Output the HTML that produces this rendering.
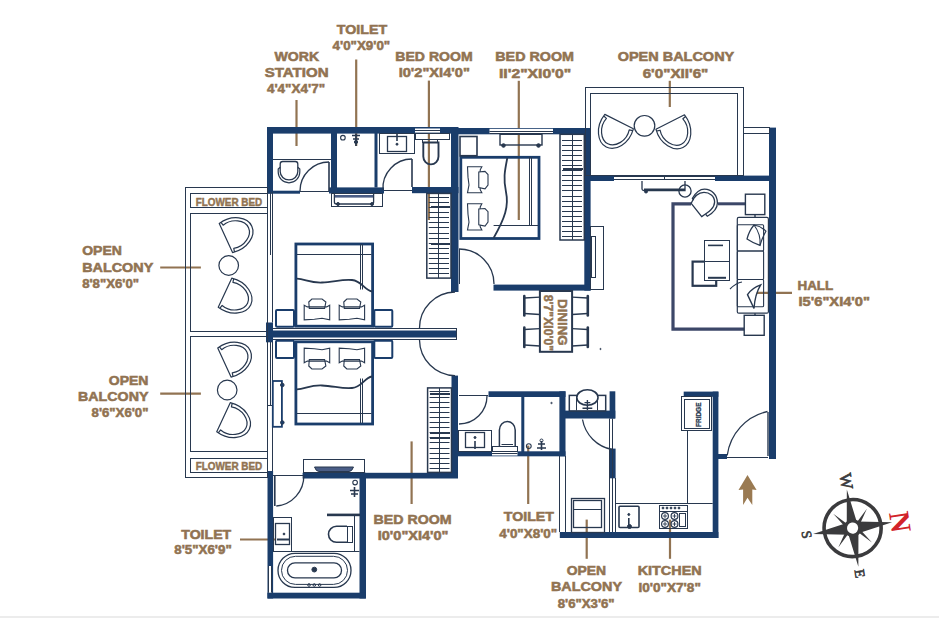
<!DOCTYPE html><html><head><meta charset="utf-8"><style>html,body{margin:0;padding:0;background:#fff;width:939px;height:618px;overflow:hidden}svg{display:block}text{font-family:"Liberation Sans",sans-serif;font-weight:bold}</style></head><body><svg width="939" height="618" viewBox="0 0 939 618"><text x="336.75" y="33.50" textLength="50.40" lengthAdjust="spacingAndGlyphs" font-size="13" fill="#917352" stroke="#917352" stroke-width="0.55">TOILET</text>
<text x="332.55" y="49.90" textLength="57.60" lengthAdjust="spacingAndGlyphs" font-size="13" fill="#917352" stroke="#917352" stroke-width="0.55">4'0"X9'0"</text>
<text x="274.45" y="60.90" textLength="44.70" lengthAdjust="spacingAndGlyphs" font-size="13" fill="#917352" stroke="#917352" stroke-width="0.55">WORK</text>
<text x="264.65" y="76.60" textLength="63.90" lengthAdjust="spacingAndGlyphs" font-size="13" fill="#917352" stroke="#917352" stroke-width="0.55">STATION</text>
<text x="266.95" y="92.50" textLength="58.10" lengthAdjust="spacingAndGlyphs" font-size="13" fill="#917352" stroke="#917352" stroke-width="0.55">4'4"X4'7"</text>
<text x="395.35" y="60.90" textLength="77.30" lengthAdjust="spacingAndGlyphs" font-size="13" fill="#917352" stroke="#917352" stroke-width="0.55">BED ROOM</text>
<text x="398.65" y="76.60" textLength="71.20" lengthAdjust="spacingAndGlyphs" font-size="13" fill="#917352" stroke="#917352" stroke-width="0.55">I0'2"XI4'0"</text>
<text x="495.25" y="60.90" textLength="78.80" lengthAdjust="spacingAndGlyphs" font-size="13" fill="#917352" stroke="#917352" stroke-width="0.55">BED ROOM</text>
<text x="498.95" y="77.60" textLength="72.20" lengthAdjust="spacingAndGlyphs" font-size="13" fill="#917352" stroke="#917352" stroke-width="0.55">II'2"XI0'0"</text>
<text x="617.65" y="60.90" textLength="116.60" lengthAdjust="spacingAndGlyphs" font-size="13" fill="#917352" stroke="#917352" stroke-width="0.55">OPEN BALCONY</text>
<text x="642.65" y="77.60" textLength="65.70" lengthAdjust="spacingAndGlyphs" font-size="13" fill="#917352" stroke="#917352" stroke-width="0.55">6'0"XII'6"</text>
<text x="797.45" y="290.20" textLength="35.80" lengthAdjust="spacingAndGlyphs" font-size="13" fill="#917352" stroke="#917352" stroke-width="0.55">HALL</text>
<text x="798.55" y="306.20" textLength="71.40" lengthAdjust="spacingAndGlyphs" font-size="13" fill="#917352" stroke="#917352" stroke-width="0.55">I5'6"XI4'0"</text>
<text x="82.15" y="255.30" textLength="39.80" lengthAdjust="spacingAndGlyphs" font-size="13" fill="#917352" stroke="#917352" stroke-width="0.55">OPEN</text>
<text x="82.15" y="271.70" textLength="71.10" lengthAdjust="spacingAndGlyphs" font-size="13" fill="#917352" stroke="#917352" stroke-width="0.55">BALCONY</text>
<text x="82.15" y="288.10" textLength="56.90" lengthAdjust="spacingAndGlyphs" font-size="13" fill="#917352" stroke="#917352" stroke-width="0.55">8'8"X6'0"</text>
<text x="108.75" y="384.60" textLength="39.70" lengthAdjust="spacingAndGlyphs" font-size="13" fill="#917352" stroke="#917352" stroke-width="0.55">OPEN</text>
<text x="78.05" y="401.00" textLength="70.40" lengthAdjust="spacingAndGlyphs" font-size="13" fill="#917352" stroke="#917352" stroke-width="0.55">BALCONY</text>
<text x="91.55" y="417.40" textLength="56.90" lengthAdjust="spacingAndGlyphs" font-size="13" fill="#917352" stroke="#917352" stroke-width="0.55">8'6"X6'0"</text>
<text x="181.25" y="538.70" textLength="50.00" lengthAdjust="spacingAndGlyphs" font-size="13" fill="#917352" stroke="#917352" stroke-width="0.55">TOILET</text>
<text x="174.25" y="553.80" textLength="57.50" lengthAdjust="spacingAndGlyphs" font-size="13" fill="#917352" stroke="#917352" stroke-width="0.55">8'5"X6'9"</text>
<text x="373.55" y="523.70" textLength="78.10" lengthAdjust="spacingAndGlyphs" font-size="13" fill="#917352" stroke="#917352" stroke-width="0.55">BED ROOM</text>
<text x="377.75" y="540.30" textLength="70.70" lengthAdjust="spacingAndGlyphs" font-size="13" fill="#917352" stroke="#917352" stroke-width="0.55">I0'0"XI4'0"</text>
<text x="503.75" y="521.00" textLength="50.20" lengthAdjust="spacingAndGlyphs" font-size="13" fill="#917352" stroke="#917352" stroke-width="0.55">TOILET</text>
<text x="499.25" y="537.70" textLength="57.90" lengthAdjust="spacingAndGlyphs" font-size="13" fill="#917352" stroke="#917352" stroke-width="0.55">4'0"X8'0"</text>
<text x="566.65" y="574.90" textLength="39.40" lengthAdjust="spacingAndGlyphs" font-size="13" fill="#917352" stroke="#917352" stroke-width="0.55">OPEN</text>
<text x="550.95" y="591.20" textLength="71.10" lengthAdjust="spacingAndGlyphs" font-size="13" fill="#917352" stroke="#917352" stroke-width="0.55">BALCONY</text>
<text x="557.65" y="608.00" textLength="57.00" lengthAdjust="spacingAndGlyphs" font-size="13" fill="#917352" stroke="#917352" stroke-width="0.55">8'6"X3'6"</text>
<text x="637.65" y="574.90" textLength="64.00" lengthAdjust="spacingAndGlyphs" font-size="13" fill="#917352" stroke="#917352" stroke-width="0.55">KITCHEN</text>
<text x="638.45" y="592.00" textLength="62.40" lengthAdjust="spacingAndGlyphs" font-size="13" fill="#917352" stroke="#917352" stroke-width="0.55">I0'0"X7'8"</text>
<line x1="296.50" y1="100.00" x2="296.50" y2="146.00" stroke="#917352" stroke-width="2.2"/>
<line x1="356.20" y1="59.50" x2="356.20" y2="146.00" stroke="#917352" stroke-width="2.2"/>
<line x1="428.90" y1="80.60" x2="428.90" y2="220.00" stroke="#917352" stroke-width="2.2"/>
<line x1="518.80" y1="80.80" x2="518.80" y2="220.00" stroke="#917352" stroke-width="2.2"/>
<line x1="669.80" y1="80.80" x2="669.80" y2="107.00" stroke="#917352" stroke-width="2.2"/>
<line x1="756.80" y1="292.80" x2="792.00" y2="292.80" stroke="#917352" stroke-width="2.2"/>
<line x1="160.20" y1="267.50" x2="200.90" y2="267.50" stroke="#917352" stroke-width="2.2"/>
<line x1="160.20" y1="393.60" x2="200.90" y2="393.60" stroke="#917352" stroke-width="2.2"/>
<line x1="240.00" y1="539.50" x2="275.00" y2="539.50" stroke="#917352" stroke-width="2.2"/>
<line x1="411.60" y1="441.40" x2="411.60" y2="504.00" stroke="#917352" stroke-width="2.2"/>
<line x1="528.20" y1="445.60" x2="528.20" y2="504.00" stroke="#917352" stroke-width="2.2"/>
<line x1="586.70" y1="519.60" x2="586.70" y2="558.80" stroke="#917352" stroke-width="2.2"/>
<line x1="670.00" y1="519.60" x2="670.00" y2="558.80" stroke="#917352" stroke-width="2.2"/>
<rect x="267.00" y="127.00" width="6.00" height="66.50" fill="#1a3d6b"/>
<rect x="267.00" y="127.00" width="191.50" height="6.60" fill="#1a3d6b"/>
<rect x="331.00" y="127.00" width="6.00" height="66.50" fill="#1a3d6b"/>
<rect x="267.00" y="190.70" width="33.00" height="3.00" fill="#1a3d6b"/>
<line x1="300.00" y1="191.50" x2="331.00" y2="191.50" stroke="#28384f" stroke-width="1.0"/>
<rect x="329.00" y="187.40" width="55.00" height="6.10" fill="#1a3d6b"/>
<rect x="374.50" y="133.00" width="3.00" height="54.50" fill="#1a3d6b"/>
<rect x="412.00" y="187.00" width="46.50" height="6.20" fill="#1a3d6b"/>
<line x1="384.00" y1="190.50" x2="412.00" y2="190.50" stroke="#28384f" stroke-width="1.0"/>
<rect x="451.00" y="128.00" width="7.50" height="164.00" fill="#1a3d6b"/>
<rect x="415.00" y="128.50" width="25.00" height="4.10" fill="#ffffff"/>
<line x1="415.00" y1="130.50" x2="440.00" y2="130.50" stroke="#28384f" stroke-width="1.0"/>
<rect x="458.00" y="128.00" width="132.60" height="6.30" fill="#1a3d6b"/>
<rect x="489.50" y="128.80" width="63.50" height="4.60" fill="#ffffff"/>
<line x1="489.50" y1="131.50" x2="553.00" y2="131.50" stroke="#28384f" stroke-width="1.0"/>
<line x1="489.50" y1="133.50" x2="553.00" y2="133.50" stroke="#28384f" stroke-width="1.0"/>
<rect x="584.30" y="128.00" width="6.30" height="162.60" fill="#1a3d6b"/>
<rect x="493.50" y="284.60" width="97.10" height="6.00" fill="#1a3d6b"/>
<rect x="590.00" y="175.60" width="24.00" height="5.40" fill="#1a3d6b"/>
<rect x="715.00" y="175.60" width="55.00" height="5.40" fill="#1a3d6b"/>
<line x1="614.00" y1="176.50" x2="715.00" y2="176.50" stroke="#28384f" stroke-width="1.0"/>
<line x1="614.00" y1="179.50" x2="715.00" y2="179.50" stroke="#28384f" stroke-width="1.0"/>
<line x1="664.50" y1="176.50" x2="664.50" y2="179.50" stroke="#28384f" stroke-width="1.0"/>
<rect x="769.00" y="127.60" width="7.00" height="331.40" fill="#1a3d6b"/>
<rect x="266.00" y="330.50" width="191.00" height="7.00" fill="#1a3d6b"/>
<line x1="273.00" y1="328.50" x2="457.00" y2="328.50" stroke="#28384f" stroke-width="1.0"/>
<line x1="273.00" y1="339.50" x2="457.00" y2="339.50" stroke="#28384f" stroke-width="1.0"/>
<line x1="456.50" y1="328.50" x2="456.50" y2="339.50" stroke="#28384f" stroke-width="1.0"/>
<rect x="266.00" y="322.50" width="7.00" height="19.80" fill="#1a3d6b"/>
<rect x="451.50" y="375.60" width="6.50" height="101.80" fill="#1a3d6b"/>
<rect x="302.60" y="472.80" width="155.40" height="5.70" fill="#1a3d6b"/>
<rect x="267.50" y="471.00" width="5.60" height="127.50" fill="#1a3d6b"/>
<rect x="359.50" y="472.80" width="6.50" height="125.70" fill="#1a3d6b"/>
<rect x="267.40" y="592.70" width="98.30" height="5.80" fill="#1a3d6b"/>
<rect x="488.50" y="391.30" width="77.00" height="5.70" fill="#1a3d6b"/>
<rect x="521.30" y="397.00" width="3.00" height="58.00" fill="#1a3d6b"/>
<rect x="559.40" y="391.30" width="6.10" height="65.00" fill="#1a3d6b"/>
<rect x="458.00" y="451.30" width="107.50" height="5.00" fill="#1a3d6b"/>
<rect x="492.00" y="452.00" width="25.50" height="3.50" fill="#ffffff"/>
<line x1="492.00" y1="453.50" x2="517.50" y2="453.50" stroke="#28384f" stroke-width="1.0"/>
<rect x="565.00" y="410.60" width="50.30" height="7.90" fill="#1a3d6b"/>
<rect x="609.60" y="391.30" width="5.70" height="27.20" fill="#1a3d6b"/>
<rect x="609.30" y="448.60" width="6.30" height="29.70" fill="#1a3d6b"/>
<line x1="609.50" y1="418.50" x2="609.50" y2="532.00" stroke="#28384f" stroke-width="1.0"/>
<line x1="615.50" y1="478.00" x2="615.50" y2="532.00" stroke="#28384f" stroke-width="1.0"/>
<line x1="612.50" y1="418.50" x2="612.50" y2="532.00" stroke="#28384f" stroke-width="1.0"/>
<line x1="565.50" y1="456.00" x2="565.50" y2="532.00" stroke="#28384f" stroke-width="1.0"/>
<rect x="712.70" y="391.60" width="5.70" height="146.40" fill="#1a3d6b"/>
<rect x="683.70" y="391.60" width="34.70" height="5.20" fill="#1a3d6b"/>
<rect x="559.80" y="532.00" width="158.60" height="6.00" fill="#1a3d6b"/>
<rect x="718.00" y="454.00" width="9.00" height="5.00" fill="#1a3d6b"/>
<rect x="185.50" y="187.50" width="82.00" height="290.00" fill="none" stroke="#28384f" stroke-width="1.0" rx="0"/>
<rect x="190.50" y="193.50" width="77.00" height="14.00" fill="none" stroke="#28384f" stroke-width="1.0" rx="0"/>
<rect x="190.50" y="458.50" width="77.00" height="14.00" fill="none" stroke="#28384f" stroke-width="1.0" rx="0"/>
<rect x="190.50" y="213.50" width="77.00" height="118.00" fill="none" stroke="#28384f" stroke-width="1.0" rx="0"/>
<rect x="190.50" y="336.50" width="77.00" height="115.00" fill="none" stroke="#28384f" stroke-width="1.0" rx="0"/>
<text x="195.7" y="206.1" textLength="66.5" lengthAdjust="spacingAndGlyphs" font-size="10.5" fill="#917352" stroke="#917352" stroke-width="0.45">FLOWER BED</text>
<text x="195.7" y="470.3" textLength="66.5" lengthAdjust="spacingAndGlyphs" font-size="10.5" fill="#917352" stroke="#917352" stroke-width="0.45">FLOWER BED</text>
<line x1="272.50" y1="192.00" x2="272.50" y2="322.50" stroke="#28384f" stroke-width="1.0"/>
<line x1="270.50" y1="192.00" x2="270.50" y2="255.00" stroke="#28384f" stroke-width="1.0"/>
<line x1="272.50" y1="342.00" x2="272.50" y2="471.00" stroke="#28384f" stroke-width="1.0"/>
<line x1="270.50" y1="342.00" x2="270.50" y2="405.00" stroke="#28384f" stroke-width="1.0"/>
<line x1="267.50" y1="405.50" x2="272.50" y2="405.50" stroke="#28384f" stroke-width="1.0"/>
<path transform="translate(225.9,238) rotate(-24.6)" d="M0,-16 C15.675,-19.2 28.5,-9.92 28.5,0 C28.5,9.92 15.675,19.2 0,16 Z M2,-16.2 L2.8,-12.76 C13.695,-15.744 24.9,-8.206000000000001 24.9,0 C24.9,8.206000000000001 13.695,15.744 2.8,12.76 L2,16.2" fill="none" stroke="#28384f" stroke-width="1.2" stroke-linejoin="round"/>
<circle cx="228.7" cy="265.5" r="9.8" fill="none" stroke="#28384f" stroke-width="1.2"/>
<path transform="translate(225,292.7) rotate(25)" d="M0,-16 C15.675,-19.2 28.5,-9.92 28.5,0 C28.5,9.92 15.675,19.2 0,16 Z M2,-16.2 L2.8,-12.76 C13.695,-15.744 24.9,-8.206000000000001 24.9,0 C24.9,8.206000000000001 13.695,15.744 2.8,12.76 L2,16.2" fill="none" stroke="#28384f" stroke-width="1.2" stroke-linejoin="round"/>
<path transform="translate(224.4,362.5) rotate(-24.6)" d="M0,-16 C15.675,-19.2 28.5,-9.92 28.5,0 C28.5,9.92 15.675,19.2 0,16 Z M2,-16.2 L2.8,-12.76 C13.695,-15.744 24.9,-8.206000000000001 24.9,0 C24.9,8.206000000000001 13.695,15.744 2.8,12.76 L2,16.2" fill="none" stroke="#28384f" stroke-width="1.2" stroke-linejoin="round"/>
<circle cx="227.2" cy="390.0" r="9.8" fill="none" stroke="#28384f" stroke-width="1.2"/>
<path transform="translate(223.5,417.2) rotate(25)" d="M0,-16 C15.675,-19.2 28.5,-9.92 28.5,0 C28.5,9.92 15.675,19.2 0,16 Z M2,-16.2 L2.8,-12.76 C13.695,-15.744 24.9,-8.206000000000001 24.9,0 C24.9,8.206000000000001 13.695,15.744 2.8,12.76 L2,16.2" fill="none" stroke="#28384f" stroke-width="1.2" stroke-linejoin="round"/>
<rect x="585.50" y="87.50" width="158.00" height="88.00" fill="none" stroke="#28384f" stroke-width="1.0" rx="0"/>
<rect x="590.50" y="93.50" width="147.00" height="82.00" fill="none" stroke="#28384f" stroke-width="1.0" rx="0"/>
<rect x="743.50" y="127.50" width="26.00" height="6.00" fill="none" stroke="#28384f" stroke-width="1.0" rx="0"/>
<line x1="743.50" y1="133.20" x2="743.50" y2="175.60" stroke="#28384f" stroke-width="1.0"/>
<path transform="translate(619.1,121.6) rotate(116.8)" d="M0,-16 C15.675,-19.2 28.5,-9.92 28.5,0 C28.5,9.92 15.675,19.2 0,16 Z M2,-16.2 L2.8,-12.76 C13.695,-15.744 24.9,-8.206000000000001 24.9,0 C24.9,8.206000000000001 13.695,15.744 2.8,12.76 L2,16.2" fill="none" stroke="#28384f" stroke-width="1.2" stroke-linejoin="round"/>
<circle cx="644.5" cy="125.8" r="10.3" fill="none" stroke="#28384f" stroke-width="1.2"/>
<path transform="translate(670.2,122) rotate(63.4)" d="M0,-16 C15.675,-19.2 28.5,-9.92 28.5,0 C28.5,9.92 15.675,19.2 0,16 Z M2,-16.2 L2.8,-12.76 C13.695,-15.744 24.9,-8.206000000000001 24.9,0 C24.9,8.206000000000001 13.695,15.744 2.8,12.76 L2,16.2" fill="none" stroke="#28384f" stroke-width="1.2" stroke-linejoin="round"/>
<path d="M329,162 A29,29 0 0 0 300,191" fill="none" stroke="#28384f" stroke-width="1.3" />
<line x1="329.00" y1="191.00" x2="329.00" y2="162.00" stroke="#28384f" stroke-width="1.6"/>
<path d="M412,159 A29,29 0 0 0 383,190" fill="none" stroke="#28384f" stroke-width="1.3" />
<line x1="412.00" y1="187.00" x2="412.00" y2="159.00" stroke="#28384f" stroke-width="1.6"/>
<path d="M459,249 A35,35 0 0 1 494,284" fill="none" stroke="#28384f" stroke-width="1.3" />
<line x1="459.50" y1="249.00" x2="459.50" y2="284.00" stroke="#28384f" stroke-width="1.0"/>
<path d="M455,292 A36,36 0 0 0 419.5,328" fill="none" stroke="#28384f" stroke-width="1.3" />
<path d="M419.5,340 A36,36 0 0 0 455,375.6" fill="none" stroke="#28384f" stroke-width="1.3" />
<path d="M487,396 A28,28 0 0 1 459,424" fill="none" stroke="#28384f" stroke-width="1.3" />
<line x1="459.00" y1="395.50" x2="488.00" y2="395.50" stroke="#28384f" stroke-width="1.0"/>
<path d="M303.8,475.3 A30,30 0 0 1 276.3,506" fill="none" stroke="#28384f" stroke-width="1.3" />
<line x1="274.80" y1="476.00" x2="274.80" y2="506.00" stroke="#28384f" stroke-width="1.6"/>
<line x1="273.00" y1="475.50" x2="303.00" y2="475.50" stroke="#28384f" stroke-width="1.0"/>
<path d="M582.5,419.5 A37,37 0 0 0 612.3,449.5" fill="none" stroke="#28384f" stroke-width="1.3" />
<path d="M727.2,455.5 A52,52 0 0 1 767.5,411.5" fill="none" stroke="#28384f" stroke-width="1.3" />
<line x1="768.00" y1="412.00" x2="768.00" y2="456.00" stroke="#28384f" stroke-width="1.4"/>
<line x1="727.00" y1="457.50" x2="768.00" y2="457.50" stroke="#28384f" stroke-width="1.0"/>
<g transform="translate(852.6,528.1) rotate(-8.5)">
<circle r="28.5" fill="none" stroke="#3b3b3d" stroke-width="3.6"/>
<path d="M0,-39 L5,-6 L40,0 L5,6 L0,39 L-5,6 L-40,0 L-5,-6 Z" fill="#3b3b3d"/>
<path d="M0,0 L17,-17 L4,3 Z M0,0 L17,17 L3,-4 Z M0,0 L-17,17 L-4,-3 Z M0,0 L-17,-17 L-3,4 Z" fill="#3b3b3d"/>
<circle r="9" fill="#3b3b3d"/><circle r="5.6" fill="#fff"/>
</g>
<text transform="translate(839.5,474) rotate(81.5)" style="font-family:'Liberation Serif';font-weight:normal" font-size="17" fill="#3b3b3d" stroke="#3b3b3d" stroke-width="0.7">W</text>
<text transform="translate(801.5,531.5) rotate(81.5)" style="font-family:'Liberation Serif';font-weight:normal" font-size="14" fill="#3b3b3d" stroke="#3b3b3d" stroke-width="0.6">S</text>
<text transform="translate(854.5,570) rotate(81.5)" style="font-family:'Liberation Serif';font-weight:normal" font-size="14" fill="#3b3b3d" stroke="#3b3b3d" stroke-width="0.6">E</text>
<text transform="translate(889,513) rotate(81.5)" style="font-family:'Liberation Serif';font-weight:bold" font-size="29" fill="#d2232a">N</text>
<path d="M747.5,474.9 L756.6,490 L752.3,489.6 L752.3,505.1 L747.5,497.8 L743.1,505.1 L743.1,489.6 L738.5,490 Z" fill="#9a7a52" stroke="none" stroke-width="0" />
<rect x="0.00" y="616.00" width="939.00" height="2.00" fill="#ececec"/>
<line x1="273.00" y1="159.50" x2="331.00" y2="159.50" stroke="#28384f" stroke-width="1.0"/>
<path d="M280.2,164 Q280.2,161.5 282.7,161.5 L295.3,161.5 Q297.8,161.5 297.8,164 L297.8,171.5 A8.8,8.4 0 0 1 280.2,171.5 Z" fill="none" stroke="#28384f" stroke-width="1.3" />
<path d="M280.2,167.2 L278.2,169 L278.2,172 A10.8,10.8 0 0 0 299.8,172 L299.8,169 L297.8,167.2" fill="none" stroke="#28384f" stroke-width="1.2" />
<circle cx="342.9" cy="137.7" r="2.3" fill="none" stroke="#28384f" stroke-width="1.1"/>
<path d="M352,135.5 L360,135.5 M356,134 L356,146 M353,139 L359,139" fill="none" stroke="#28384f" stroke-width="1.6" />
<circle cx="356" cy="142" r="1.6" fill="#28384f" stroke="#28384f" stroke-width="1"/>
<rect x="379.50" y="133.50" width="35.00" height="20.00" fill="none" stroke="#28384f" stroke-width="1.0" rx="0"/>
<rect x="387.50" y="136.50" width="19.00" height="15.00" fill="none" stroke="#28384f" stroke-width="1.3" rx="0"/>
<line x1="397.00" y1="134.00" x2="397.00" y2="141.00" stroke="#28384f" stroke-width="1.6"/>
<circle cx="397" cy="144.2" r="1.0" fill="#28384f" stroke="#28384f" stroke-width="1"/>
<rect x="415.50" y="133.50" width="34.00" height="6.00" fill="none" stroke="#28384f" stroke-width="1.0" rx="0"/>
<rect x="422.50" y="139.50" width="15.00" height="3.00" fill="none" stroke="#28384f" stroke-width="1.0" rx="0"/>
<path d="M423.3,142.5 L423.3,156.6 A7.6,7.8 0 0 0 438.5,156.6 L438.5,142.5 Z" fill="none" stroke="#28384f" stroke-width="1.9" />
<rect x="331.50" y="193.50" width="51.00" height="13.00" fill="none" stroke="#28384f" stroke-width="1.0" rx="0"/>
<rect x="334.40" y="195.00" width="39.20" height="2.60" fill="#4a5d86"/>
<path d="M334.4,194 L334.4,202 Q334.4,204 336.4,204 L371.6,204 Q373.6,204 373.6,202 L373.6,194" fill="none" stroke="#28384f" stroke-width="1.3" />
<circle cx="338" cy="204" r="1.5" fill="#28384f" stroke="#28384f" stroke-width="1"/>
<circle cx="372" cy="204" r="1.5" fill="#28384f" stroke="#28384f" stroke-width="1"/>
<rect x="295.90" y="244.00" width="76.70" height="82.20" fill="none" stroke="#1a3d6b" stroke-width="2.8" rx="0"/>
<line x1="297.00" y1="254.50" x2="371.50" y2="254.50" stroke="#28384f" stroke-width="1.0"/>
<line x1="360.50" y1="244.00" x2="360.50" y2="289.50" stroke="#28384f" stroke-width="1.0"/>
<line x1="362.50" y1="244.00" x2="362.50" y2="289.50" stroke="#28384f" stroke-width="1.0"/>
<path d="M297,278.6 C305,279 310,283 322,282.5 C334,282 342,279 352,280 C362,281 364,290 372,291.5" fill="none" stroke="#28384f" stroke-width="1.8" />
<path d="M304.2,305.24 L307.26,306.904 L326.64,306.904 L329.7,305.24 L329.7,319.8 L322.05,318.3 L314.4,319.3 L304.2,319.8 Z" fill="none" stroke="#28384f" stroke-width="1.1" />
<path d="M308.78999999999996,302 L311.84999999999997,299 L322.05,299 L325.875,302 L324.59999999999997,308.36 L309.3,308.36 Z" fill="none" stroke="#28384f" stroke-width="1.1" />
<path d="M339.2,305.24 L342.248,306.904 L361.552,306.904 L364.6,305.24 L364.6,319.8 L356.98,318.3 L349.36,319.3 L339.2,319.8 Z" fill="none" stroke="#28384f" stroke-width="1.1" />
<path d="M343.772,302 L346.82,299 L356.98,299 L360.79,302 L359.52000000000004,308.36 L344.28,308.36 Z" fill="none" stroke="#28384f" stroke-width="1.1" />
<rect x="276.00" y="310.00" width="18.00" height="16.80" fill="none" stroke="#1a3d6b" stroke-width="2.0" rx="1"/>
<rect x="374.30" y="310.00" width="18.00" height="16.80" fill="none" stroke="#1a3d6b" stroke-width="2.0" rx="1"/>
<rect x="295.90" y="341.80" width="76.70" height="82.20" fill="none" stroke="#1a3d6b" stroke-width="2.8" rx="0"/>
<line x1="297.00" y1="413.50" x2="371.50" y2="413.50" stroke="#28384f" stroke-width="1.0"/>
<line x1="360.50" y1="378.50" x2="360.50" y2="423.00" stroke="#28384f" stroke-width="1.0"/>
<line x1="362.50" y1="378.50" x2="362.50" y2="423.00" stroke="#28384f" stroke-width="1.0"/>
<path d="M297,389.4 C305,389 310,385 322,385.5 C334,386 342,389 352,388 C362,387 364,378 372,376.5" fill="none" stroke="#28384f" stroke-width="1.8" />
<path d="M304.2,362.76 L307.26,361.096 L326.64,361.096 L329.7,362.76 L329.7,348.2 L322.05,349.7 L314.4,348.7 L304.2,348.2 Z" fill="none" stroke="#28384f" stroke-width="1.1" />
<path d="M308.78999999999996,366 L311.84999999999997,369 L322.05,369 L325.875,366 L324.59999999999997,359.64 L309.3,359.64 Z" fill="none" stroke="#28384f" stroke-width="1.1" />
<path d="M339.2,362.76 L342.248,361.096 L361.552,361.096 L364.6,362.76 L364.6,348.2 L356.98,349.7 L349.36,348.7 L339.2,348.2 Z" fill="none" stroke="#28384f" stroke-width="1.1" />
<path d="M343.772,366 L346.82,369 L356.98,369 L360.79,366 L359.52000000000004,359.64 L344.28,359.64 Z" fill="none" stroke="#28384f" stroke-width="1.1" />
<rect x="276.00" y="340.80" width="18.00" height="17.20" fill="none" stroke="#1a3d6b" stroke-width="2.0" rx="1"/>
<rect x="374.30" y="340.80" width="18.00" height="17.20" fill="none" stroke="#1a3d6b" stroke-width="2.0" rx="1"/>
<rect x="426.80" y="193.40" width="24.20" height="84.70" fill="none" stroke="#28384f" stroke-width="1.5" rx="0"/>
<line x1="438.50" y1="193.40" x2="438.50" y2="278.10" stroke="#28384f" stroke-width="1.0"/>
<line x1="428.80" y1="197.50" x2="449.00" y2="197.50" stroke="#28384f" stroke-width="1.0"/>
<line x1="428.80" y1="202.50" x2="449.00" y2="202.50" stroke="#28384f" stroke-width="1.0"/>
<line x1="428.80" y1="207.50" x2="449.00" y2="207.50" stroke="#28384f" stroke-width="1.0"/>
<line x1="428.80" y1="212.50" x2="449.00" y2="212.50" stroke="#28384f" stroke-width="1.0"/>
<line x1="428.80" y1="217.50" x2="449.00" y2="217.50" stroke="#28384f" stroke-width="1.0"/>
<line x1="428.80" y1="222.50" x2="449.00" y2="222.50" stroke="#28384f" stroke-width="1.0"/>
<line x1="428.80" y1="227.50" x2="449.00" y2="227.50" stroke="#28384f" stroke-width="1.0"/>
<line x1="428.80" y1="233.50" x2="449.00" y2="233.50" stroke="#28384f" stroke-width="1.0"/>
<line x1="428.80" y1="238.50" x2="449.00" y2="238.50" stroke="#28384f" stroke-width="1.0"/>
<line x1="428.80" y1="243.50" x2="449.00" y2="243.50" stroke="#28384f" stroke-width="1.0"/>
<line x1="428.80" y1="248.50" x2="449.00" y2="248.50" stroke="#28384f" stroke-width="1.0"/>
<line x1="428.80" y1="253.50" x2="449.00" y2="253.50" stroke="#28384f" stroke-width="1.0"/>
<line x1="428.80" y1="258.50" x2="449.00" y2="258.50" stroke="#28384f" stroke-width="1.0"/>
<line x1="428.80" y1="263.50" x2="449.00" y2="263.50" stroke="#28384f" stroke-width="1.0"/>
<line x1="428.80" y1="268.50" x2="449.00" y2="268.50" stroke="#28384f" stroke-width="1.0"/>
<line x1="428.80" y1="273.50" x2="449.00" y2="273.50" stroke="#28384f" stroke-width="1.0"/>
<rect x="431.00" y="206.00" width="19.00" height="2.00" fill="#28384f"/>
<rect x="431.00" y="243.00" width="19.00" height="2.00" fill="#28384f"/>
<rect x="427.60" y="387.90" width="23.90" height="84.50" fill="none" stroke="#28384f" stroke-width="1.5" rx="0"/>
<line x1="439.50" y1="387.90" x2="439.50" y2="472.40" stroke="#28384f" stroke-width="1.0"/>
<line x1="429.60" y1="391.50" x2="449.50" y2="391.50" stroke="#28384f" stroke-width="1.0"/>
<line x1="429.60" y1="397.50" x2="449.50" y2="397.50" stroke="#28384f" stroke-width="1.0"/>
<line x1="429.60" y1="402.50" x2="449.50" y2="402.50" stroke="#28384f" stroke-width="1.0"/>
<line x1="429.60" y1="407.50" x2="449.50" y2="407.50" stroke="#28384f" stroke-width="1.0"/>
<line x1="429.60" y1="412.50" x2="449.50" y2="412.50" stroke="#28384f" stroke-width="1.0"/>
<line x1="429.60" y1="417.50" x2="449.50" y2="417.50" stroke="#28384f" stroke-width="1.0"/>
<line x1="429.60" y1="422.50" x2="449.50" y2="422.50" stroke="#28384f" stroke-width="1.0"/>
<line x1="429.60" y1="427.50" x2="449.50" y2="427.50" stroke="#28384f" stroke-width="1.0"/>
<line x1="429.60" y1="432.50" x2="449.50" y2="432.50" stroke="#28384f" stroke-width="1.0"/>
<line x1="429.60" y1="437.50" x2="449.50" y2="437.50" stroke="#28384f" stroke-width="1.0"/>
<line x1="429.60" y1="442.50" x2="449.50" y2="442.50" stroke="#28384f" stroke-width="1.0"/>
<line x1="429.60" y1="448.50" x2="449.50" y2="448.50" stroke="#28384f" stroke-width="1.0"/>
<line x1="429.60" y1="453.50" x2="449.50" y2="453.50" stroke="#28384f" stroke-width="1.0"/>
<line x1="429.60" y1="458.50" x2="449.50" y2="458.50" stroke="#28384f" stroke-width="1.0"/>
<line x1="429.60" y1="463.50" x2="449.50" y2="463.50" stroke="#28384f" stroke-width="1.0"/>
<line x1="429.60" y1="468.50" x2="449.50" y2="468.50" stroke="#28384f" stroke-width="1.0"/>
<rect x="430.00" y="393.00" width="20.00" height="2.00" fill="#28384f"/>
<rect x="430.00" y="432.00" width="20.00" height="2.00" fill="#28384f"/>
<rect x="430.00" y="437.00" width="20.00" height="2.00" fill="#28384f"/>
<rect x="272.80" y="381.00" width="9.10" height="45.80" fill="none" stroke="#1a3d6b" stroke-width="1.8" rx="0"/>
<circle cx="282.3" cy="385" r="1.8" fill="#1a3d6b" stroke="#28384f" stroke-width="1"/>
<circle cx="282.3" cy="422.5" r="1.8" fill="#1a3d6b" stroke="#28384f" stroke-width="1"/>
<rect x="303.50" y="459.50" width="61.00" height="13.00" fill="none" stroke="#28384f" stroke-width="1.0" rx="0"/>
<path d="M314.5,467 L353.5,467 Q352,471.5 349,471.5 L319,471.5 Q316,471.5 314.5,467 Z" fill="#4a5d86" stroke="#28384f" stroke-width="1.0" />
<rect x="460.80" y="157.30" width="78.20" height="81.20" fill="none" stroke="#1a3d6b" stroke-width="2.8" rx="0"/>
<line x1="529.50" y1="157.00" x2="529.50" y2="225.80" stroke="#28384f" stroke-width="1.0"/>
<line x1="531.50" y1="157.00" x2="531.50" y2="225.80" stroke="#28384f" stroke-width="1.0"/>
<line x1="493.60" y1="225.50" x2="538.00" y2="225.50" stroke="#28384f" stroke-width="1.0"/>
<path d="M507.3,158 C505,170 503,178 506,192 C509,206 505,218 493.6,238" fill="none" stroke="#28384f" stroke-width="1.8" />
<rect x="460.00" y="136.50" width="17.00" height="19.20" fill="none" stroke="#28384f" stroke-width="1.6" rx="0"/>
<rect x="500.00" y="134.30" width="42.00" height="10.70" fill="none" stroke="#28384f" stroke-width="1.4" rx="0"/>
<circle cx="503.5" cy="145.5" r="1.8" fill="#28384f" stroke="#28384f" stroke-width="1"/>
<circle cx="538.5" cy="145.5" r="1.8" fill="#28384f" stroke="#28384f" stroke-width="1"/>
<path d="M481.85,166.7 L480.21,169.832 L480.21,189.668 L481.85,192.8 L467.5,192.8 L469.0,184.97 L468.0,177.14 L467.5,166.7 Z" fill="none" stroke="#28384f" stroke-width="1.1" />
<path d="M485,171.398 L488,174.53 L488,184.97 L485,188.88500000000002 L478.775,187.58 L478.775,171.92 Z" fill="#fff" stroke="#28384f" stroke-width="1.1" />
<path d="M481.85,203.8 L480.21,206.94400000000002 L480.21,226.856 L481.85,230 L467.5,230 L469.0,222.14000000000001 L468.0,214.28 L467.5,203.8 Z" fill="none" stroke="#28384f" stroke-width="1.1" />
<path d="M485,208.51600000000002 L488,211.66 L488,222.14000000000001 L485,226.07 L478.775,224.76 L478.775,209.04000000000002 Z" fill="#fff" stroke="#28384f" stroke-width="1.1" />
<rect x="560.00" y="134.30" width="24.30" height="105.70" fill="none" stroke="#28384f" stroke-width="1.5" rx="0"/>
<line x1="572.50" y1="134.30" x2="572.50" y2="240.00" stroke="#28384f" stroke-width="1.0"/>
<line x1="562.00" y1="140.50" x2="582.00" y2="140.50" stroke="#28384f" stroke-width="1.0"/>
<line x1="562.00" y1="145.50" x2="582.00" y2="145.50" stroke="#28384f" stroke-width="1.0"/>
<line x1="562.00" y1="150.50" x2="582.00" y2="150.50" stroke="#28384f" stroke-width="1.0"/>
<line x1="562.00" y1="155.50" x2="582.00" y2="155.50" stroke="#28384f" stroke-width="1.0"/>
<line x1="562.00" y1="160.50" x2="582.00" y2="160.50" stroke="#28384f" stroke-width="1.0"/>
<line x1="562.00" y1="165.50" x2="582.00" y2="165.50" stroke="#28384f" stroke-width="1.0"/>
<line x1="562.00" y1="170.50" x2="582.00" y2="170.50" stroke="#28384f" stroke-width="1.0"/>
<line x1="562.00" y1="175.50" x2="582.00" y2="175.50" stroke="#28384f" stroke-width="1.0"/>
<line x1="562.00" y1="180.50" x2="582.00" y2="180.50" stroke="#28384f" stroke-width="1.0"/>
<line x1="562.00" y1="185.50" x2="582.00" y2="185.50" stroke="#28384f" stroke-width="1.0"/>
<line x1="562.00" y1="190.50" x2="582.00" y2="190.50" stroke="#28384f" stroke-width="1.0"/>
<line x1="562.00" y1="196.50" x2="582.00" y2="196.50" stroke="#28384f" stroke-width="1.0"/>
<line x1="562.00" y1="201.50" x2="582.00" y2="201.50" stroke="#28384f" stroke-width="1.0"/>
<line x1="562.00" y1="206.50" x2="582.00" y2="206.50" stroke="#28384f" stroke-width="1.0"/>
<line x1="562.00" y1="211.50" x2="582.00" y2="211.50" stroke="#28384f" stroke-width="1.0"/>
<line x1="562.00" y1="216.50" x2="582.00" y2="216.50" stroke="#28384f" stroke-width="1.0"/>
<line x1="562.00" y1="221.50" x2="582.00" y2="221.50" stroke="#28384f" stroke-width="1.0"/>
<line x1="562.00" y1="226.50" x2="582.00" y2="226.50" stroke="#28384f" stroke-width="1.0"/>
<line x1="562.00" y1="231.50" x2="582.00" y2="231.50" stroke="#28384f" stroke-width="1.0"/>
<line x1="562.00" y1="236.50" x2="582.00" y2="236.50" stroke="#28384f" stroke-width="1.0"/>
<rect x="563.00" y="168.00" width="20.00" height="2.00" fill="#28384f"/>
<rect x="590.50" y="226.50" width="13.00" height="63.00" fill="none" stroke="#28384f" stroke-width="1.0" rx="0"/>
<rect x="591.50" y="236.50" width="4.00" height="41.00" fill="none" stroke="#28384f" stroke-width="1.0" rx="0"/>
<path d="M691,203.8 L673,203.8 L673,329.2 L744.2,329.2" fill="none" stroke="#3c4768" stroke-width="3.2" />
<line x1="718.00" y1="203.80" x2="745.40" y2="203.80" stroke="#3c4768" stroke-width="3.0"/>
<path d="M642,181 L642,189 Q642,190.5 644,190.5 L685,190.5 L685,181" fill="none" stroke="#28384f" stroke-width="1.3" />
<rect x="644.00" y="188.50" width="41.00" height="2.30" fill="#28384f"/>
<circle cx="646" cy="191.5" r="1.5" fill="#28384f" stroke="#28384f" stroke-width="1"/>
<circle cx="685" cy="191" r="6.1" fill="none" stroke="#28384f" stroke-width="1.3"/>
<path d="M691.2,203.3 L701.7,216.6 C709,212 714.6,208 714.6,202 C714.6,196 709.5,192.4 704,192.4 C698.5,192.4 694,196.5 691.2,203.3 Z" fill="#fff" stroke="#28384f" stroke-width="1.3" />
<path d="M693.8,200.2 L692.4,198.4 C696,192 700,189.1 704.5,189.1 C711.5,189.1 717.4,195 717.4,203 C717.4,208.5 713,213 707.3,216.2 L705.6,214.3" fill="none" stroke="#28384f" stroke-width="1.3" />
<rect x="745.40" y="194.20" width="19.40" height="20.40" fill="none" stroke="#28384f" stroke-width="1.4" rx="0"/>
<rect x="744.20" y="315.30" width="20.00" height="20.00" fill="none" stroke="#28384f" stroke-width="1.4" rx="0"/>
<line x1="755.00" y1="214.60" x2="755.00" y2="217.40" stroke="#28384f" stroke-width="1.4"/>
<line x1="755.00" y1="313.20" x2="755.00" y2="315.30" stroke="#28384f" stroke-width="1.4"/>
<rect x="737.30" y="217.40" width="31.10" height="95.80" fill="none" stroke="#28384f" stroke-width="1.2" rx="1.5"/>
<rect x="737.30" y="224.70" width="26.30" height="26.30" fill="none" stroke="#28384f" stroke-width="1.1" rx="1"/>
<rect x="737.30" y="251.00" width="26.30" height="28.50" fill="none" stroke="#28384f" stroke-width="1.1" rx="1"/>
<rect x="737.30" y="279.50" width="26.30" height="27.30" fill="none" stroke="#28384f" stroke-width="1.1" rx="1"/>
<path d="M754,225 Q761,226 765.9,231.2 Q762,238 760,245.4 Q753,243 747,239 Q749,231 754,225 Z" fill="none" stroke="#28384f" stroke-width="1.2" />
<path d="M754,225 Q761,234 760,245.4" fill="none" stroke="#28384f" stroke-width="1.1" />
<path d="M760.7,284.9 Q752,288 747.5,294.6 Q751,302 754,308.5 Q755,294 760.7,284.9 Z" fill="none" stroke="#28384f" stroke-width="1.4" />
<rect x="692.60" y="261.60" width="23.60" height="24.20" fill="none" stroke="#28384f" stroke-width="2.2" rx="0"/>
<rect x="704.50" y="240.50" width="25.00" height="40.00" fill="#fff" stroke="#28384f" stroke-width="1.0" rx="0"/>
<line x1="704.20" y1="261.50" x2="729.90" y2="261.50" stroke="#28384f" stroke-width="1.0"/>
<line x1="708.00" y1="245.40" x2="723.00" y2="245.40" stroke="#28384f" stroke-width="1.6"/>
<rect x="708.00" y="276.80" width="18.00" height="2.00" fill="#28384f"/>
<path d="M730,289 Q736,283 742,282" fill="none" stroke="#28384f" stroke-width="1.1" />
<rect x="539.90" y="291.00" width="32.20" height="60.80" fill="none" stroke="#28384f" stroke-width="2.0" rx="0"/>
<path d="M539.9,297.2 L524.3,298 M539.9,314.5 L524.3,313.5" fill="none" stroke="#28384f" stroke-width="1.3" />
<path d="M524.3,296 L524.3,315.5" fill="none" stroke="#28384f" stroke-width="2.6" stroke-linecap="round"/>
<path d="M539.9,328.7 L524.3,329.5 M539.9,346 L524.3,345" fill="none" stroke="#28384f" stroke-width="1.3" />
<path d="M524.3,327.5 L524.3,347" fill="none" stroke="#28384f" stroke-width="2.6" stroke-linecap="round"/>
<path d="M572.1,297.2 L587.8,298 M572.1,314.5 L587.8,313.5" fill="none" stroke="#28384f" stroke-width="1.3" />
<path d="M587.8,296 L587.8,315.5" fill="none" stroke="#28384f" stroke-width="2.6" stroke-linecap="round"/>
<path d="M572.1,328.7 L587.8,329.5 M572.1,346 L587.8,345" fill="none" stroke="#28384f" stroke-width="1.3" />
<path d="M587.8,327.5 L587.8,347" fill="none" stroke="#28384f" stroke-width="2.6" stroke-linecap="round"/>
<text transform="translate(558.3,299) rotate(90)" textLength="46.7" lengthAdjust="spacingAndGlyphs" font-size="12.5" fill="#917352" stroke="#917352" stroke-width="0.5">DINING</text>
<text transform="translate(543.7,294.7) rotate(90)" textLength="56.5" lengthAdjust="spacingAndGlyphs" font-size="13" fill="#917352" stroke="#917352" stroke-width="0.5">8'7"XI0'0"</text>
<circle cx="600.5" cy="349" r="0.7" fill="#28384f" stroke="#28384f" stroke-width="0.5"/>
<rect x="458.50" y="430.50" width="33.00" height="21.00" fill="none" stroke="#28384f" stroke-width="1.0" rx="0"/>
<rect x="465.50" y="432.50" width="19.00" height="15.00" fill="none" stroke="#28384f" stroke-width="1.3" rx="0"/>
<line x1="475.00" y1="441.00" x2="475.00" y2="449.00" stroke="#28384f" stroke-width="1.6"/>
<circle cx="475" cy="437.5" r="1" fill="#28384f" stroke="#28384f" stroke-width="1"/>
<path d="M499.4,446.8 L499.4,430 A7.9,8.5 0 0 1 515.2,430 L515.2,446.8" fill="none" stroke="#28384f" stroke-width="1.5" />
<line x1="501.50" y1="444.50" x2="513.00" y2="444.50" stroke="#28384f" stroke-width="1.0"/>
<rect x="492.50" y="446.50" width="25.00" height="5.00" fill="none" stroke="#28384f" stroke-width="1.0" rx="0"/>
<circle cx="528.8" cy="446.1" r="2.4" fill="none" stroke="#28384f" stroke-width="1.1"/>
<path d="M537,448 L546,448 M541.5,441 L541.5,450 M538,444 L545,444" fill="none" stroke="#28384f" stroke-width="1.6" />
<circle cx="541.5" cy="440.5" r="1.5" fill="none" stroke="#28384f" stroke-width="1.0"/>
<circle cx="551.5" cy="403" r="0.8" fill="#28384f" stroke="#28384f" stroke-width="0.5"/>
<rect x="569.30" y="395.40" width="36.40" height="15.60" fill="none" stroke="#28384f" stroke-width="1.5" rx="0"/>
<line x1="576.50" y1="396.00" x2="576.50" y2="410.50" stroke="#28384f" stroke-width="1.0"/>
<line x1="597.50" y1="396.00" x2="597.50" y2="410.50" stroke="#28384f" stroke-width="1.0"/>
<ellipse cx="587.4" cy="397.5" rx="10.6" ry="7.8" fill="#fff" stroke="#28384f" stroke-width="1.6"/>
<path d="M584.5,402.6 L590.3,402.6 M587.4,400 L587.4,410 M582.5,408.3 L592.3,408.3" fill="none" stroke="#28384f" stroke-width="1.4" />
<rect x="571.50" y="498.50" width="33.00" height="34.00" fill="none" stroke="#28384f" stroke-width="1.3" rx="0"/>
<rect x="573.50" y="500.50" width="28.00" height="27.00" fill="none" stroke="#28384f" stroke-width="1.3" rx="0"/>
<line x1="573.40" y1="509.50" x2="601.80" y2="509.50" stroke="#28384f" stroke-width="1.0"/>
<line x1="559.50" y1="456.00" x2="559.50" y2="532.00" stroke="#28384f" stroke-width="1.0"/>
<rect x="681.50" y="396.50" width="30.00" height="34.00" fill="none" stroke="#28384f" stroke-width="1.0" rx="0"/>
<rect x="684.50" y="399.50" width="25.00" height="29.00" fill="none" stroke="#28384f" stroke-width="1.0" rx="0"/>
<text transform="translate(701,427) rotate(-90)" textLength="24.5" lengthAdjust="spacingAndGlyphs" font-size="8" fill="#28384f" stroke="#28384f" stroke-width="0.3">FRIDGE</text>
<line x1="687.50" y1="430.50" x2="687.50" y2="503.00" stroke="#28384f" stroke-width="1.0"/>
<line x1="615.60" y1="503.50" x2="712.70" y2="503.50" stroke="#28384f" stroke-width="1.0"/>
<rect x="619.00" y="506.30" width="20.00" height="21.20" fill="none" stroke="#28384f" stroke-width="1.6" rx="1"/>
<line x1="628.80" y1="518.00" x2="628.80" y2="526.00" stroke="#28384f" stroke-width="1.6"/>
<circle cx="628.8" cy="514.5" r="1" fill="#28384f" stroke="#28384f" stroke-width="1"/>
<circle cx="629.5" cy="526.5" r="2" fill="#28384f" stroke="#28384f" stroke-width="1"/>
<rect x="659.50" y="505.50" width="28.00" height="23.00" fill="none" stroke="#28384f" stroke-width="1.0" rx="0"/>
<line x1="659.00" y1="511.50" x2="687.30" y2="511.50" stroke="#28384f" stroke-width="1.0"/>
<circle cx="663" cy="508" r="1.0" fill="#28384f" stroke="#28384f" stroke-width="0.8"/>
<circle cx="667" cy="508" r="1.0" fill="#28384f" stroke="#28384f" stroke-width="0.8"/>
<circle cx="671" cy="508" r="1.0" fill="#28384f" stroke="#28384f" stroke-width="0.8"/>
<circle cx="675" cy="508" r="1.0" fill="#28384f" stroke="#28384f" stroke-width="0.8"/>
<circle cx="679" cy="508" r="1.0" fill="#28384f" stroke="#28384f" stroke-width="0.8"/>
<circle cx="665" cy="516" r="3.4" fill="none" stroke="#28384f" stroke-width="1.2"/>
<path d="M663,516 L667,516 M665,514 L665,518" fill="none" stroke="#28384f" stroke-width="0.9" />
<circle cx="674.5" cy="516" r="3.4" fill="none" stroke="#28384f" stroke-width="1.2"/>
<path d="M672.5,516 L676.5,516 M674.5,514 L674.5,518" fill="none" stroke="#28384f" stroke-width="0.9" />
<circle cx="665" cy="524" r="3.4" fill="none" stroke="#28384f" stroke-width="1.2"/>
<path d="M663,524 L667,524 M665,522 L665,526" fill="none" stroke="#28384f" stroke-width="0.9" />
<circle cx="674.5" cy="524" r="3.4" fill="none" stroke="#28384f" stroke-width="1.2"/>
<path d="M672.5,524 L676.5,524 M674.5,522 L674.5,526" fill="none" stroke="#28384f" stroke-width="0.9" />
<rect x="679.50" y="513.50" width="6.00" height="13.00" fill="none" stroke="#28384f" stroke-width="1.0" rx="0"/>
<rect x="273.50" y="517.50" width="18.00" height="34.00" fill="none" stroke="#28384f" stroke-width="1.0" rx="0"/>
<rect x="275.50" y="523.50" width="14.00" height="21.00" fill="none" stroke="#28384f" stroke-width="1.3" rx="0"/>
<line x1="277.00" y1="539.50" x2="290.00" y2="539.50" stroke="#28384f" stroke-width="2.0"/>
<circle cx="284" cy="534" r="0.9" fill="#28384f" stroke="#28384f" stroke-width="1"/>
<line x1="273.00" y1="551.50" x2="359.50" y2="551.50" stroke="#28384f" stroke-width="1.0"/>
<rect x="327.00" y="513.60" width="33.00" height="2.60" fill="#28384f"/>
<path d="M347,526.3 L336.5,526.3 A8,8 0 0 0 336.5,542.3 L347,542.3" fill="none" stroke="#28384f" stroke-width="1.6" />
<rect x="347.50" y="526.50" width="5.00" height="16.00" fill="none" stroke="#28384f" stroke-width="1.0" rx="0"/>
<line x1="354.50" y1="516.00" x2="354.50" y2="551.70" stroke="#28384f" stroke-width="1.0"/>
<rect x="278.00" y="553.30" width="73.00" height="34.10" fill="none" stroke="#28384f" stroke-width="1.3" rx="17"/>
<rect x="281.50" y="556.30" width="66.00" height="28.10" fill="none" stroke="#28384f" stroke-width="1.0" rx="14"/>
<rect x="287.50" y="562.80" width="54.00" height="15.10" fill="none" stroke="#28384f" stroke-width="1.3" rx="7.5"/>
<circle cx="314.3" cy="569.6" r="2.4" fill="#28384f" stroke="#28384f" stroke-width="1"/>
<circle cx="309" cy="585" r="1.3" fill="none" stroke="#28384f" stroke-width="1.0"/>
<circle cx="314.3" cy="585" r="1.3" fill="none" stroke="#28384f" stroke-width="1.0"/>
<circle cx="319.6" cy="585" r="1.3" fill="none" stroke="#28384f" stroke-width="1.0"/>
<rect x="268.50" y="566.00" width="3.50" height="26.70" fill="#fff"/>
<line x1="268.50" y1="566.00" x2="268.50" y2="592.70" stroke="#28384f" stroke-width="1.0"/>
<line x1="271.50" y1="566.00" x2="271.50" y2="592.70" stroke="#28384f" stroke-width="1.0"/>
<circle cx="355.1" cy="482.6" r="2.3" fill="none" stroke="#28384f" stroke-width="1.1"/>
<path d="M350,490.5 L359,490.5 M354.5,487 L354.5,497 M351,494 L358,494" fill="none" stroke="#28384f" stroke-width="1.6" /></svg></body></html>
